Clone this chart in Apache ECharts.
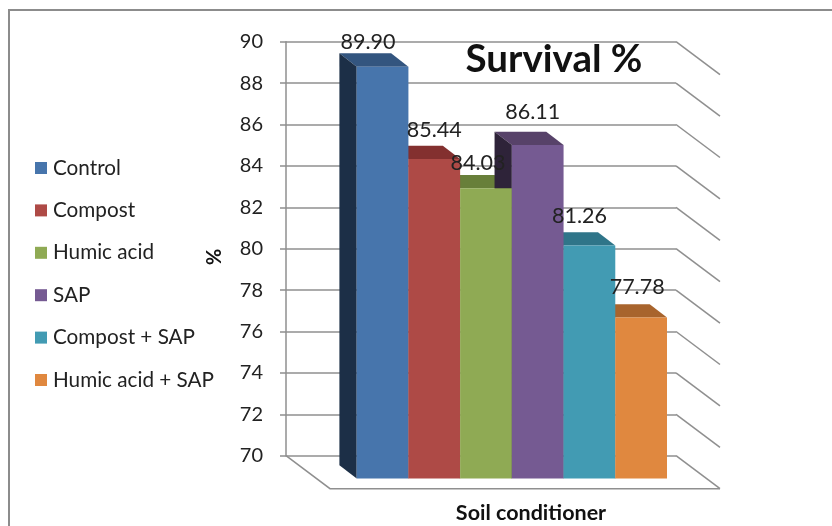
<!DOCTYPE html>
<html><head><meta charset="utf-8">
<style>html,body{margin:0;padding:0;background:#fff}#c{width:832px;height:526px}</style>
<script src="https://cdn.jsdelivr.net/npm/echarts@6/dist/echarts.min.js"></script>
</head><body><div id="c"></div>
<script>
const categories = ['Control','Compost','Humic acid','SAP','Compost + SAP','Humic acid + SAP'];
const values = [89.90,85.44,84.03,86.11,81.26,77.78];
const valueLabels = ['89.90','85.44','84.03','86.11','81.26','77.78'];
const tickValues = [70,72,74,76,78,80,82,84,86,88,90];
const frontColors = ['#4775AC','#AE4A46','#8FAA54','#755A92','#429BB3','#E0883F'];
const topColors   = ['#33557F','#83302F','#687F3A','#574269','#2F7589','#A8642D'];
const sideColors  = ['#1C2F47','#5E2222','#4A5B2A','#2E2339','#215463','#7A4820'];
// label nudges (dx from the bar's centre, dy above the bar's back edge)
const labelDx = [-14.5,0,-8,-5,-10,-4];
const labelDy = [11.5,15.5,12,19.5,16.5,17];
const FONT = 'Lato';
const GRID = '#8f8f8f';
const DX = 17.3, DY = 13.3;      // bar depth
const WX = 44, WY = 33;          // wall depth

const chart = echarts.init(document.getElementById('c'), null, {renderer:'canvas'});

function barSeries(i){
  return {
    type:'custom', name:categories[i], xAxisIndex:1, yAxisIndex:1, z:5,
    itemStyle:{color:frontColors[i]},
    data:[[i,values[i]]],
    renderItem(p,api){
      const idx=api.value(0);
      const c=api.coord([idx,api.value(1)]);
      const b=api.coord([idx,70]);
      const w=api.size([1,0])[0];
      const l=c[0]-w/2, r=c[0]+w/2, t=c[1], bt=b[1];
      return {type:'group',children:[
        {type:'polygon',z2:1,shape:{points:[[l,t],[r,t],[r-DX,t-DY],[l-DX,t-DY]]},style:{fill:topColors[i]}},
        {type:'polygon',z2:2,shape:{points:[[l,t],[l-DX,t-DY],[l-DX,bt-DY],[l,bt]]},style:{fill:sideColors[i]}},
        {type:'rect',z2:3,shape:{x:l,y:t,width:w,height:bt-t},style:{fill:frontColors[i]}}
      ]};
    }
  };
}

const option = {
  animation:false,
  backgroundColor:'#fff',
  textStyle:{fontFamily:FONT},
  title:[
    {text:'Survival %',left:549,top:35,textAlign:'center',
     textStyle:{fontFamily:FONT,fontSize:38.5,fontWeight:'bold',color:'#111'}},
    {text:'Soil conditioner',left:526,top:497,textAlign:'center',
     textStyle:{fontFamily:FONT,fontSize:21.5,fontWeight:'bold',color:'#111'}}
  ],
  legend:{
    orient:'vertical',left:30,top:152,icon:'rect',itemWidth:12,itemHeight:12,itemGap:20.4,
    data:categories,selectedMode:false,
    textStyle:{fontFamily:FONT,fontSize:20.7,color:'#222',padding:[0,0,0,1],lineHeight:22}
  },
  grid:[
    {left:286,top:41.7,width:390,height:414},
    {left:356.7,top:64.6,width:310.3,height:414}
  ],
  xAxis:[
    {gridIndex:0,type:'value',min:0,max:1,show:false},
    {gridIndex:1,type:'category',data:categories,show:false}
  ],
  yAxis:[
    {gridIndex:0,type:'value',min:70,max:90,interval:2,
     axisLine:{show:true,lineStyle:{color:GRID,width:1.5}},
     axisTick:{show:true,length:6,lineStyle:{color:GRID,width:1.5}},
     axisLabel:{margin:23,fontFamily:FONT,fontSize:20,color:'#222'},
     splitLine:{show:true,lineStyle:{color:GRID,width:1.5}}},
    {gridIndex:1,type:'value',min:70,max:90,interval:2,show:false,splitLine:{show:false}}
  ],
  graphic:[
    {type:'rect',silent:true,z:-1,shape:{x:9,y:10,width:900,height:700},
     style:{fill:'none',stroke:'#8c8c8c',lineWidth:2}},
    {type:'text',silent:true,rotation:-Math.PI/2,x:212,y:257,
     style:{text:'%',font:'bold 20px '+FONT,fill:'#111',textAlign:'center',textVerticalAlign:'middle'}}
  ],
  series:[
    {type:'custom',xAxisIndex:0,yAxisIndex:0,z:2,silent:true,
     data:tickValues.map(v=>[1,v]),
     renderItem(p,api){
       const e=api.coord([1,api.value(1)]);
       return {type:'line',shape:{x1:e[0],y1:e[1],x2:e[0]+WX,y2:e[1]+WY},
               style:{stroke:GRID,lineWidth:1.5}};
     }},
    {type:'custom',xAxisIndex:0,yAxisIndex:0,z:2,silent:true,
     data:[[0,tickValues[0]]],
     renderItem(p,api){
       const s=api.coord([0,api.value(1)]);
       const e=api.coord([1,api.value(1)]);
       return {type:'polyline',shape:{points:[[s[0],s[1]],[s[0]+WX,s[1]+WY],[e[0]+WX,e[1]+WY]]},
               style:{stroke:GRID,lineWidth:1.5,fill:'none'}};
     }},
    ...categories.map((_,i)=>barSeries(i)),
    {type:'custom',xAxisIndex:1,yAxisIndex:1,z:9,silent:true,
     data:values.map((v,i)=>[i,v]),
     renderItem(p,api){
       const i=api.value(0);
       const c=api.coord([i,api.value(1)]);
       return {type:'text',style:{text:valueLabels[i],x:c[0]+labelDx[i],y:c[1]-DY-labelDy[i],
         font:'21.5px '+FONT,fill:'#222',textAlign:'center',textVerticalAlign:'middle'}};
     }}
  ]
};
chart.setOption(option);
</script></body></html>
